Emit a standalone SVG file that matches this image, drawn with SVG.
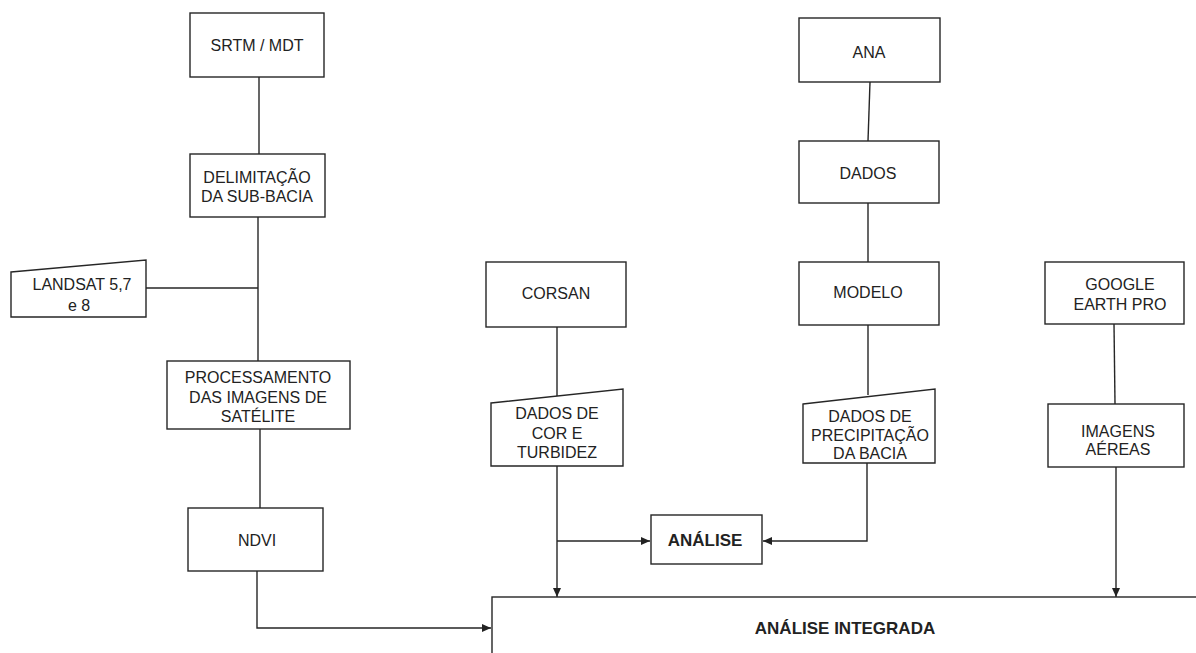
<svg xmlns="http://www.w3.org/2000/svg" width="1196" height="653" viewBox="0 0 1196 653">
<style>
.box{fill:#fff;stroke:#262626;stroke-width:1.4}
.t{font-family:"Liberation Sans",Arial,sans-serif;font-size:16px;fill:#222;text-anchor:middle;dominant-baseline:central}
.b{font-weight:bold;font-size:17px}
.c{fill:none;stroke:#262626;stroke-width:1.4}
</style>
<defs>
<marker id="arr" markerWidth="10" markerHeight="10" refX="9" refY="5" orient="auto" markerUnits="userSpaceOnUse">
<path d="M0,1 L9,5 L0,9 Z" fill="#222"/>
</marker>
</defs>
<rect width="1196" height="653" fill="#fff"/>
<g id="connectors">
<line class="c" x1="259" y1="77" x2="259" y2="154"/>
<line class="c" x1="258" y1="217" x2="258" y2="361"/>
<line class="c" x1="146" y1="288" x2="258" y2="288"/>
<line class="c" x1="260" y1="429" x2="260" y2="508"/>
<polyline class="c" points="257,571 257,628 491,628" marker-end="url(#arr)"/>
<line class="c" x1="870" y1="82" x2="868" y2="141"/>
<line class="c" x1="868" y1="203" x2="868" y2="262"/>
<line class="c" x1="868" y1="325" x2="868" y2="395"/>
<polyline class="c" points="867,463 867,541 763,541" marker-end="url(#arr)"/>
<line class="c" x1="557" y1="327" x2="557" y2="396"/>
<line class="c" x1="557" y1="466" x2="557" y2="597" marker-end="url(#arr)"/>
<line class="c" x1="557" y1="541" x2="650" y2="541" marker-end="url(#arr)"/>
<line class="c" x1="1114" y1="324" x2="1115" y2="404"/>
<line class="c" x1="1116" y1="467" x2="1116" y2="597" marker-end="url(#arr)"/>
</g>
<g id="srtm"><rect class="box" x="190" y="13" width="134" height="64"/><text class="t" x="257" y="45">SRTM / MDT</text></g>
<g id="delimitacao"><rect class="box" x="190" y="154" width="135" height="63"/><text class="t" x="257" y="177">DELIMITAÇÃO</text><text class="t" x="257" y="196">DA SUB-BACIA</text></g>
<g id="landsat"><polygon class="box" points="11,272 146,260 146,317 11,317"/><text class="t" x="82" y="284">LANDSAT 5,7</text><text class="t" x="79" y="305">e 8</text></g>
<g id="processamento"><rect class="box" x="167" y="361" width="183" height="68"/><text class="t" x="258" y="377">PROCESSAMENTO</text><text class="t" x="258" y="397">DAS IMAGENS DE</text><text class="t" x="258" y="416">SATÉLITE</text></g>
<g id="ndvi"><rect class="box" x="188" y="508" width="135" height="63"/><text class="t" x="257" y="540">NDVI</text></g>
<g id="ana"><rect class="box" x="799" y="18" width="141" height="64"/><text class="t" x="869" y="52">ANA</text></g>
<g id="dados"><rect class="box" x="799" y="141" width="140" height="62"/><text class="t" x="868" y="173">DADOS</text></g>
<g id="modelo"><rect class="box" x="799" y="262" width="140" height="63"/><text class="t" x="868" y="292">MODELO</text></g>
<g id="precipitacao"><polygon class="box" points="803,404 935,389 935,463 803,463"/><text class="t" x="870" y="416">DADOS DE</text><text class="t" x="870" y="435">PRECIPITAÇÃO</text><text class="t" x="870" y="453">DA BACIA</text></g>
<g id="corsan"><rect class="box" x="486" y="262" width="140" height="65"/><text class="t" x="556" y="293">CORSAN</text></g>
<g id="cor-turbidez"><polygon class="box" points="491,403 623,389 623,466 491,466"/><text class="t" x="557" y="413">DADOS DE</text><text class="t" x="557" y="433">COR E</text><text class="t" x="557" y="452">TURBIDEZ</text></g>
<g id="google"><rect class="box" x="1045" y="262" width="139" height="62"/><text class="t" x="1120" y="284">GOOGLE</text><text class="t" x="1120" y="304">EARTH PRO</text></g>
<g id="imagens"><rect class="box" x="1048" y="404" width="136" height="63"/><text class="t" x="1118" y="431">IMAGENS</text><text class="t" x="1118" y="449">AÉREAS</text></g>
<g id="analise"><rect class="box" x="651" y="515" width="111" height="49"/><text class="t b" x="705" y="540">ANÁLISE</text></g>
<g id="analise-integrada"><rect class="box" x="492" y="597" width="710" height="70"/><text class="t b" x="845" y="628">ANÁLISE INTEGRADA</text></g>
</svg>
